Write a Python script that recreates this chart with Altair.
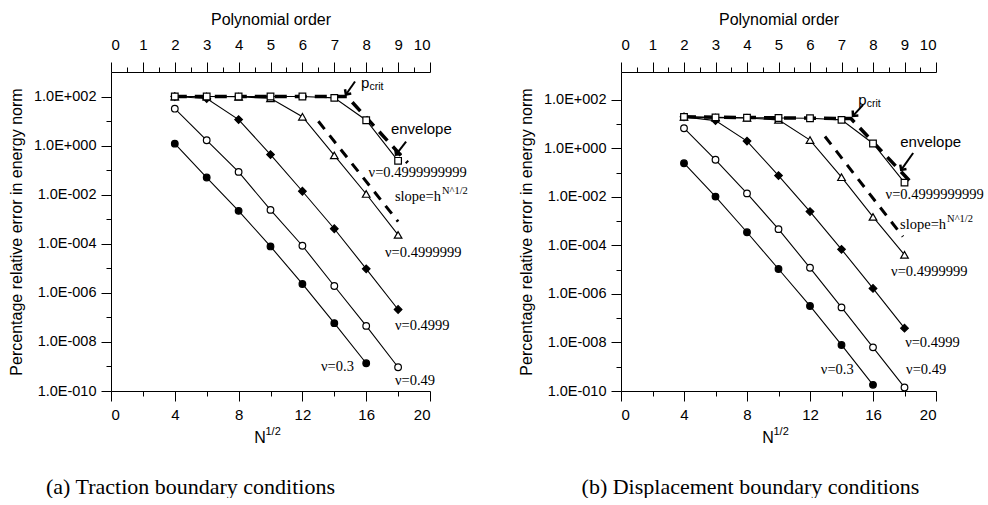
import altair as alt
import pandas as pd

# ---------------- data ----------------
N = [4, 6, 8, 10, 12, 14, 16, 18]           # N^(1/2) values (p = N/2)
SERIES = ["0.3", "0.49", "0.4999", "0.4999999", "0.4999999999"]

# (a) traction boundary conditions
a_nu_03 = [1.2, 0.05, 2.2e-3, 7.8e-5, 2.3e-6, 5.8e-8, 1.35e-9]
a_nu_049 = [32, 1.65, 0.085, 2.4e-3, 8.3e-5, 1.9e-6, 4.5e-8, 9.3e-10]
a_nu_04999 = [100, 83, 11.5, 0.43, 0.0138, 4.1e-4, 9.5e-6, 2.1e-7]
a_nu_04999999 = [100, 100, 98, 85, 15, 0.4, 0.0107, 2.3e-4]
a_nu_04999999999 = [100, 100, 100, 100, 100, 88, 10.8, 0.24]
a_env_x = [4, 14.8, 18.6]
a_env_y = [100, 100, 0.2]
a_slope_x = [13.0, 18.0]
a_slope_y = [9.8, 8e-4]
a_lab_text = ["ν=0.4999999999", "ν=0.4999999", "ν=0.4999", "ν=0.49", "ν=0.3"]
a_lab_x = [16.15, 17.18, 17.8, 17.8, 13.17]
a_lab_y = [0.079, 4.3e-5, 4.5e-8, 2.6e-10, 9.5e-10]
a_env_lab = (17.55, 4.94)
a_slope_lab = (17.8, 8.3e-3)
a_pcrit_lab = (15.67, 373)
a_arrow_x = [15.30, 18.5]
a_arrow_y = [409, 1.46]
a_arrow_x2 = [14.73, 17.87]
a_arrow_y2 = [121, 0.43]
a_arrow_ang = [215, 218]

# (b) displacement boundary conditions
b_nu_03 = [0.245, 0.0103, 3.5e-4, 1.07e-5, 3.2e-7, 7.9e-9, 1.8e-10]
b_nu_049 = [6.8, 0.34, 0.014, 4.7e-4, 1.2e-5, 2.8e-7, 6.3e-9, 1.4e-10]
b_nu_04999 = [20, 14, 2.0, 0.076, 2.5e-3, 6.9e-5, 1.7e-6, 3.9e-8]
b_nu_04999999 = [20, 18.5, 18, 15, 2.2, 0.065, 1.5e-3, 4.1e-5]
b_nu_04999999999 = [20, 19, 18.5, 18, 17.5, 15, 1.6, 0.039]
b_env_x = [4, 14.6, 18.6]
b_env_y = [20, 17, 0.03]
b_slope_x = [12.95, 17.9]
b_slope_y = [3.1, 2.3e-4]
b_lab_text = ["ν=0.4999999999", "ν=0.4999999", "ν=0.4999", "ν=0.49", "ν=0.3"]
b_lab_x = [16.8, 17.15, 18.04, 18.1, 12.69]
b_lab_y = [0.012, 8.1e-6, 9.5e-9, 7.4e-10, 7.4e-10]
b_env_lab = (17.73, 1.86)
b_slope_lab = (17.72, 7e-4)
b_pcrit_lab = (15.06, 100)
b_arrow_x = [15.37, 18.55]
b_arrow_y = [62, 0.65]
b_arrow_x2 = [14.73, 17.79]
b_arrow_y2 = [21.9, 0.13]
b_arrow_ang = [222, 215]

X_MAJOR = [0, 4, 8, 12, 16, 20]
X_MINOR = [2, 6, 10, 14, 18]
Y_MAJOR = [1e2, 1e0, 1e-2, 1e-4, 1e-6, 1e-8, 1e-10]
Y_MINOR = [1e1, 1e-1, 1e-3, 1e-5, 1e-7, 1e-9]
P_MAJOR = list(range(0, 11))
P_MINOR = [i + 0.5 for i in range(10)]

SANS = "Liberation Sans"
SERIF = "Liberation Serif"

STYLE = {
    "0.3": ("circle", True, 44),
    "0.49": ("circle", False, 44),
    "0.4999": ("diamond", True, 58),
    "0.4999999": ("triangle-up", False, 58),
    "0.4999999999": ("square", False, 44),
}

CHEVRON = "M-0.8,0.8L0,0L0.8,0.8"

YLABEL = ("'1.0E' + (datum.value >= 1 ? '+' : '-') + "
          "(abs(round(log(datum.value)/LN10)) < 10 ? '00' : '0') + "
          "abs(round(log(datum.value)/LN10))")


def make_panel(series_vals, env_x, env_y, sl_x, sl_y, lab_text, lab_x, lab_y,
               env_lab, slope_lab, pcrit_lab, ar_x, ar_y, ar_x2, ar_y2, ar_ang,
               caption, width, height, ymax, cap_dx):
    rows = []
    for name, vals in zip(SERIES, series_vals):
        for n, v in zip(N, vals):
            rows.append({"series": name, "n": n, "err": v})
    df = pd.DataFrame(rows)

    xs = alt.Scale(domain=[0, 20], nice=False, zero=False)
    ys = alt.Scale(type="log", domain=[1e-10, ymax], nice=False)

    def X(field="n", axis=None):
        return alt.X(f"{field}:Q", scale=xs, axis=axis)

    def Y(field="err", axis=None):
        return alt.Y(f"{field}:Q", scale=ys, axis=axis)

    ax_common = dict(domainColor="black", tickColor="black", labelColor="black",
                     grid=False, domainWidth=1, tickWidth=1)

    x_major = alt.Axis(orient="bottom", values=X_MAJOR, tickSize=10, format="d",
                       labelFont=SANS, labelFontSize=15, labelPadding=6,
                       title="N", titleFont=SANS, titleFontSize=16,
                       titleFontWeight="normal", titleColor="black", titlePadding=7,
                       titleX=width / 2 - 11, **ax_common)
    x_minor = alt.Axis(orient="bottom", values=X_MINOR, tickSize=5, labels=False,
                       domain=False, title=None, **ax_common)
    y_major = alt.Axis(orient="left", values=Y_MAJOR, tickSize=10, labelExpr=YLABEL,
                       labelFont=SANS, labelFontSize=14.5, labelPadding=5,
                       title="Percentage relative error in energy norm",
                       titleFont=SANS, titleFontSize=16, titleFontWeight="normal",
                       titleColor="black", titlePadding=9, **ax_common)
    y_minor = alt.Axis(orient="left", values=Y_MINOR, tickSize=5, labels=False,
                       domain=False, title=None, **ax_common)

    env_df = pd.DataFrame({"n": env_x, "err": env_y})
    sl_df = pd.DataFrame({"n": sl_x, "err": sl_y})

    env_layer = alt.Chart(env_df).mark_line(
        color="black", strokeWidth=3.5, strokeDash=[12, 8]).encode(x=X(), y=Y())
    slope_layer = alt.Chart(sl_df).mark_line(
        color="black", strokeWidth=3, strokeDash=[10, 8]).encode(x=X(), y=Y())
    line_layer = alt.Chart(df).mark_line(color="black", strokeWidth=1.1).encode(
        x=X(axis=x_major), y=Y(axis=y_major), detail="series:N")
    minor_layer = alt.Chart(df).mark_point(opacity=0).encode(
        x=X(axis=x_minor), y=Y(axis=y_minor))

    pts = []
    for name in SERIES:
        shape, filled, size = STYLE[name]
        pts.append(
            alt.Chart(df).transform_filter(alt.datum.series == name).mark_point(
                shape=shape, filled=True, size=size,
                fill="black" if filled else "white", stroke="black",
                strokeWidth=1.2, opacity=1).encode(x=X(), y=Y()))

    lab_df = pd.DataFrame({"label": lab_text, "n": lab_x, "err": lab_y})
    lab_layer = alt.Chart(lab_df).mark_text(
        font=SERIF, fontSize=14.5, align="left", baseline="middle",
        color="black").encode(x=X(), y=Y(), text="label:N")

    env_lab_df = pd.DataFrame({"label": ["envelope"], "n": [env_lab[0]], "err": [env_lab[1]]})
    env_lab_layer = alt.Chart(env_lab_df).mark_text(
        font=SANS, fontSize=15, align="left", baseline="middle",
        color="black").encode(x=X(), y=Y(), text="label:N")

    sl_lab_df = pd.DataFrame({"label": ["slope=h"], "sup": ["N^1/2"],
                              "n": [slope_lab[0]], "err": [slope_lab[1]]})
    sl_lab_layer = alt.Chart(sl_lab_df).mark_text(
        font=SERIF, fontSize=14.5, align="left", baseline="middle",
        color="black").encode(x=X(), y=Y(), text="label:N")
    sl_sup_layer = alt.Chart(sl_lab_df).mark_text(
        font=SERIF, fontSize=10.5, align="left", baseline="middle", dx=47, dy=-6,
        color="black").encode(x=X(), y=Y(), text="sup:N")

    pc_df = pd.DataFrame({"label": ["p"], "sub": ["crit"],
                          "n": [pcrit_lab[0]], "err": [pcrit_lab[1]]})
    pc_layer = alt.Chart(pc_df).mark_text(
        font=SANS, fontSize=15, align="left", baseline="middle",
        color="black").encode(x=X(), y=Y(), text="label:N")
    pc_sub_layer = alt.Chart(pc_df).mark_text(
        font=SANS, fontSize=10.5, align="left", baseline="middle", dx=8.5, dy=4,
        color="black").encode(x=X(), y=Y(), text="sub:N")

    ar_df = pd.DataFrame({"n": ar_x, "err": ar_y, "n2": ar_x2, "err2": ar_y2,
                          "ang": ar_ang})
    ar_layer = alt.Chart(ar_df).mark_rule(color="black", strokeWidth=2).encode(
        x=X(), y=Y(), x2="n2:Q", y2="err2:Q")
    head_layer = alt.Chart(ar_df).mark_point(
        shape=CHEVRON, filled=False, color="black", size=90, strokeWidth=2.5,
        opacity=1).encode(x=X("n2"), y=Y("err2"), angle=alt.Angle("ang:Q", scale=None))

    # superscript "1/2" of the bottom axis title N^{1/2}
    sup_df = pd.DataFrame({"t": ["1/2"]})
    sup_layer = alt.Chart(sup_df).mark_text(
        font=SANS, fontSize=11, align="left", baseline="middle",
        color="black").encode(x=alt.value(width / 2 - 5), y=alt.value(height + 41),
                              text="t:N")

    inner = alt.layer(
        env_layer, slope_layer, line_layer, minor_layer, *pts,
        lab_layer, env_lab_layer, sl_lab_layer, sl_sup_layer,
        pc_layer, pc_sub_layer, ar_layer, head_layer, sup_layer,
    ).resolve_axis(x="independent", y="independent")

    p_df = pd.DataFrame({"p": P_MAJOR})
    ps = alt.Scale(domain=[0, 10], nice=False, zero=False)
    top_major = alt.Chart(p_df).mark_point(opacity=0).encode(
        x=alt.X("p:Q", scale=ps, axis=alt.Axis(
            orient="top", values=P_MAJOR, tickSize=10, format="d",
            labelFont=SANS, labelFontSize=15, labelPadding=10,
            title="Polynomial order", titleFont=SANS, titleFontSize=16,
            titleFontWeight="normal", titleColor="black", titlePadding=10,
            **ax_common)))
    top_minor = alt.Chart(p_df).mark_point(opacity=0).encode(
        x=alt.X("p:Q", scale=ps, axis=alt.Axis(
            orient="top", values=P_MINOR, tickSize=5, labels=False, domain=False,
            title=None, **ax_common)))
    top = alt.layer(top_major, top_minor).resolve_axis(x="independent")

    return alt.layer(inner, top).resolve_scale(x="independent").properties(
        width=width, height=height,
        title=alt.TitleParams(caption, orient="bottom", anchor="middle",
                              frame="group", dx=cap_dx, offset=32, font=SERIF,
                              fontSize=22, fontWeight="normal", color="black"))


panel_a = make_panel(
    [a_nu_03, a_nu_049, a_nu_04999, a_nu_04999999, a_nu_04999999999],
    a_env_x, a_env_y, a_slope_x, a_slope_y, a_lab_text, a_lab_x, a_lab_y,
    a_env_lab, a_slope_lab, a_pcrit_lab,
    a_arrow_x, a_arrow_y, a_arrow_x2, a_arrow_y2, a_arrow_ang,
    "(a) Traction boundary conditions", 319, 319, 1e3, -80)

panel_b = make_panel(
    [b_nu_03, b_nu_049, b_nu_04999, b_nu_04999999, b_nu_04999999999],
    b_env_x, b_env_y, b_slope_x, b_slope_y, b_lab_text, b_lab_x, b_lab_y,
    b_env_lab, b_slope_lab, b_pcrit_lab,
    b_arrow_x, b_arrow_y, b_arrow_x2, b_arrow_y2, b_arrow_ang,
    "(b) Displacement boundary conditions", 315, 319, 10 ** 3.15, -28)

chart = alt.hconcat(panel_a, panel_b, spacing=191, bounds="flush").properties(
    padding={"left": 8, "top": 11, "right": 0, "bottom": 0},
    background="white",
).configure_view(stroke=None)

chart.save("out.html", embed_options={"renderer": "svg", "actions": False})
